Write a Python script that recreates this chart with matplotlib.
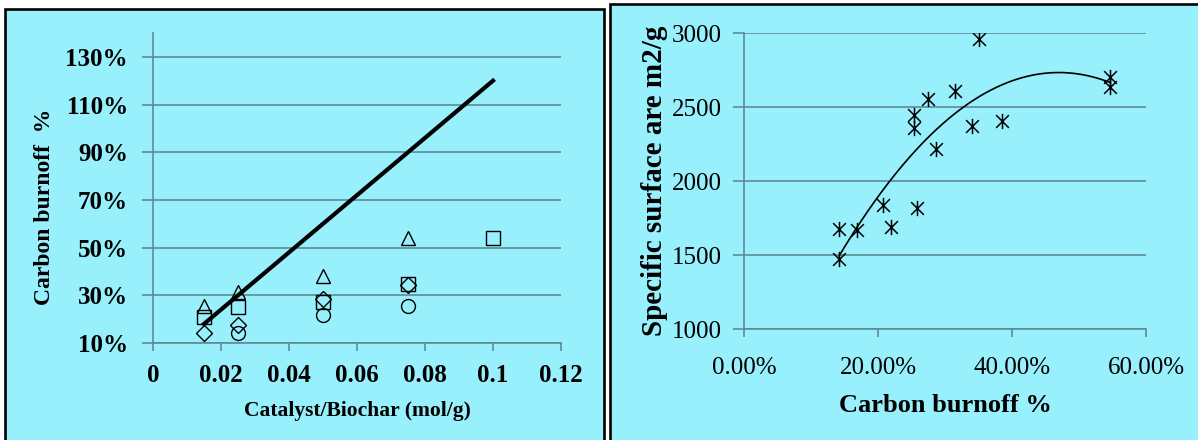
import matplotlib
matplotlib.use('Agg')
import matplotlib.pyplot as plt
import numpy as np
from matplotlib.patches import Rectangle
from matplotlib.path import Path
from matplotlib.ticker import FuncFormatter, FixedLocator

plt.rcParams['font.family'] = ['Liberation Serif', 'DejaVu Serif']

# left chart: carbon burnoff vs catalyst/biochar ratio
tri_x = [0.015, 0.025, 0.05, 0.075]
tri_y = [0.255, 0.313, 0.381, 0.539]
sq_x = [0.015, 0.025, 0.05, 0.075, 0.1]
sq_y = [0.208, 0.252, 0.273, 0.347, 0.539]
dia_x = [0.015, 0.025, 0.05, 0.075]
dia_y = [0.141, 0.175, 0.283, 0.343]
circ_x = [0.025, 0.05, 0.075]
circ_y = [0.141, 0.217, 0.255]
line_x = [0.015, 0.1]
line_y = [0.18, 1.20]

# right chart: specific surface vs carbon burnoff
burnoff = [0.142, 0.142, 0.169, 0.208, 0.219, 0.258, 0.253, 0.253, 0.275,
           0.287, 0.315, 0.341, 0.351, 0.385, 0.546, 0.546]
surface = [1471, 1674, 1667, 1840, 1689, 1820, 2449, 2361, 2551,
           2218, 2606, 2372, 2961, 2407, 2700, 2633]

bg = '#98F0FC'
grid_c = '#5f8a92'
W, H = 1198, 440

fig = plt.figure(figsize=(W / 100, H / 100), dpi=100)
fig.patch.set_facecolor('white')

# panel frames (behind the axes)
fig.patches.append(Rectangle((5 / W, -0.02), 599 / W, 1.02 - 9 / H, transform=fig.transFigure,
                             facecolor=bg, edgecolor='black', linewidth=1.9, zorder=-1))
fig.patches.append(Rectangle((610 / W, -0.02), 600 / W, 1.02 - 4 / H, transform=fig.transFigure,
                             facecolor=bg, edgecolor='black', linewidth=1.9, zorder=-1))


def style_axes(ax):
    ax.set_facecolor('none')
    for s in ['top', 'right']:
        ax.spines[s].set_visible(False)
    for s in ['left', 'bottom']:
        ax.spines[s].set_color(grid_c)
        ax.spines[s].set_linewidth(1.2)
    ax.tick_params(axis='both', direction='out', color=grid_c, width=1.2, length=6)
    ax.grid(axis='y', color=grid_c, linewidth=1.2)
    ax.set_axisbelow(True)


# ---- left chart
ax1 = fig.add_axes([153 / W, 1 - 343 / H, 408 / W, 310 / H])
style_axes(ax1)
ax1.plot(line_x, line_y, color='black', linewidth=3, zorder=3)
mk = dict(linestyle='none', markerfacecolor='none', markeredgecolor='black',
          markeredgewidth=1.0, markersize=10, zorder=4)
ax1.plot(tri_x, tri_y, marker='^', **mk)
ax1.plot(sq_x, sq_y, marker='s', **mk)
ax1.plot(dia_x, dia_y, marker='D', **dict(mk, markersize=8))
ax1.plot(circ_x, circ_y, marker='o', **mk)
ax1.set_xlim(0, 0.12)
ax1.set_ylim(0.10, 1.40)
ax1.set_xticks([0, 0.02, 0.04, 0.06, 0.08, 0.1, 0.12])
ax1.set_xticklabels(['0', '0.02', '0.04', '0.06', '0.08', '0.1', '0.12'])
ax1.yaxis.set_major_locator(FixedLocator([0.1, 0.3, 0.5, 0.7, 0.9, 1.1, 1.3]))
ax1.yaxis.set_major_formatter(FuncFormatter(lambda v, p: f'{v * 100:.0f}%'))
ax1.tick_params(axis='y', length=8, pad=10)
ax1.tick_params(axis='x', pad=9)
for t in ax1.get_xticklabels() + ax1.get_yticklabels():
    t.set_fontsize(18)
    t.set_fontweight('bold')
ax1.set_xlabel('Catalyst/Biochar (mol/g)', fontsize=15.5, fontweight='bold', labelpad=10)
ax1.set_ylabel('Carbon burnoff  %', fontsize=17, fontweight='bold')
ax1.yaxis.set_label_coords(-0.24, 0.44)

# ---- right chart
ax2 = fig.add_axes([744 / W, 1 - 329 / H, 402 / W, 296 / H])
style_axes(ax2)
star = Path([(-1, -1), (1, 1), (-1, 1), (1, -1), (0, -1.2), (0, 1.2)],
            [Path.MOVETO, Path.LINETO, Path.MOVETO, Path.LINETO, Path.MOVETO, Path.LINETO])
ax2.plot(burnoff, surface, linestyle='none', marker=star, markersize=11,
         markeredgecolor='black', markeredgewidth=1.1, zorder=4)
coef = np.polyfit(burnoff, surface, 2)
xs = np.linspace(min(burnoff), max(burnoff), 200)
ax2.plot(xs, np.polyval(coef, xs), color='black', linewidth=1.2, zorder=3)
ax2.set_xlim(0, 0.6)
ax2.set_ylim(1000, 3000)
ax2.set_xticks([0, 0.2, 0.4, 0.6])
ax2.xaxis.set_major_formatter(FuncFormatter(lambda v, p: f'{v * 100:.2f}%'))
ax2.set_yticks([1000, 1500, 2000, 2500, 3000])
ax2.tick_params(axis='y', length=8, pad=8)
ax2.tick_params(axis='x', pad=14)
for t in ax2.get_xticklabels() + ax2.get_yticklabels():
    t.set_fontsize(18)
ax2.set_xlabel('Carbon burnoff %', fontsize=19, fontweight='bold', labelpad=11)
ax2.set_ylabel('Specific surface are m2/g', fontsize=21, fontweight='bold', labelpad=3)

fig.savefig('out.png', dpi=100)
